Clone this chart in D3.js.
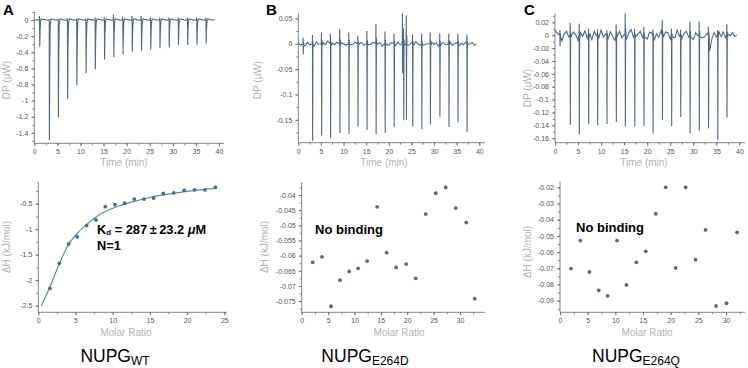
<!DOCTYPE html>
<meta charset="utf-8">
<style>
body { margin: 0; background: #fff; }
svg { font-family: "Liberation Sans", Arial, sans-serif; }
.tick text { font-size: 7px; fill: #555; }
.tick line, .domain { stroke: #666; stroke-width: 0.8; }
.atitle { font-size: 10px; fill: #b3b3b3; }
</style>
<body>
<script src="https://d3js.org/d3.v7.min.js"></script>
<script>

// ---- raw thermograms (injection time, min, peak down, peak up) ----
const aInjT = [1.16, 3.25, 5.2, 7.2, 9.2, 11.2, 13.2, 15.2, 17.2, 19.2, 21.2, 23.2, 25.2, 27.2, 29.2, 31.2, 33.2, 35.2, 37.2]
const aInjMin = [-0.33, -1.49, -1.21, -0.98, -0.81, -0.66, -0.61, -0.49, -0.46, -0.43, -0.39, -0.38, -0.37, -0.35, -0.34, -0.31, -0.31, -0.31, -0.29]
const aInjMax = [0.05, 0.01, 0.01, 0.02, 0.02, 0.02, 0.03, 0.03, 0.07, 0.04, 0.05, 0.05, 0.03, 0.03, 0.03, 0.03, 0.03, 0.03, 0.03]
const aEnd = 39.1

const bInjT = [1.1, 3.17, 5.16, 7.15, 9.2, 11.2, 13.2, 15.2, 17.2, 19.2, 21.2, 23.06, 23.3, 23.9, 25.3, 27.3, 29.2, 31.3, 33.3, 35.3, 37.3]
const bInjMin = [-0.021, -0.191, -0.181, -0.186, -0.176, -0.178, -0.163, -0.170, -0.178, -0.176, -0.164, -0.058, -0.151, -0.150, -0.163, -0.168, -0.159, -0.144, -0.164, -0.155, -0.174]
const bInjMax = [0.012, 0.017, 0.022, 0.02, 0.029, 0.022, 0.016, 0.025, 0.039, 0.024, 0.02, 0.06, 0.03, 0.056, 0.018, 0.02, 0.022, 0.02, 0.02, 0.02, 0.018]
// baseline wiggle every 0.5 min, in nW
const bNoise = [2, -3, 1, -4, 3, -2, 0, -5, 4, -1, -3, 2, -2, 5, -4, 1, -2, 3, -6, 2, 0, -3, 4, -1, -2, 3, -4, 1, 2, -3, 5, -2, -1, 3, -4, 0, 2, -5, 3, -1, -3, 2, 0, -4, 3, -2, -6, 4, -8, -3, 2, -2, 4, -1, -3, 6, -2, 0, -4, 3, -1, 2, -5, 1, 3, -2, -1, 4, -3, 0, 2, -4, 1, -2, 3, -1, 0, 2, -3, 1]
const bEnd = 39.3

const cInjT = [1.1, 3.33, 5.28, 7.3, 9.26, 11.28, 13.3, 15.26, 17.3, 19.3, 21.27, 23.3, 25.3, 27.27, 29.3, 31.3, 33.3, 35.3, 37.3]
const cInjMin = [-0.017, -0.139, -0.154, -0.138, -0.140, -0.138, -0.135, -0.142, -0.142, -0.141, -0.153, -0.132, -0.141, -0.127, -0.152, -0.148, -0.145, -0.163, -0.128]
const cInjMax = [0.008, 0.019, 0.018, 0.010, 0.009, 0.008, 0.017, 0.034, 0.010, 0.013, 0.009, 0.024, 0.010, 0.009, 0.021, 0.021, 0.013, 0.008, 0.017]
const cNoise = [8, 3, -4, -9, 2, 6, -3, -6, 5, 1, -8, 4, -2, 7, -5, 3, -7, 6, -1, -4, 8, -3, 2, -6, 5, -2, -8, 3, 6, -4, 1, -7, 4, 9, -3, -5, 2, 6, -4, 0, -6, 5, 3, -8, 2, -3, 7, -2, 5, 4, -6, 1, -4, 8, -2, -5, 3, 6, -3, 2, -7, 4, -1, 5, -4, -2, 3, -25, -6, 4, -3, 6, -2, 5, -4, 2, -1, 4, -2, 1]
const cEnd = 39.4

// ---- integrated heats ----
const aRatio = [1.57, 2.82, 4.08, 5.24, 6.5, 7.75, 9.0, 10.3, 11.6, 12.9, 14.2, 15.5, 16.8, 18.2, 19.6, 21.0, 22.4, 23.8]
const aHeat = [-2.16, -1.67, -1.29, -1.15, -0.93, -0.82, -0.56, -0.52, -0.49, -0.41, -0.41, -0.39, -0.30, -0.29, -0.24, -0.23, -0.23, -0.18]
const aFitX = [0.4, 1.57, 2.8, 4.03, 5.24, 6.5, 7.84, 9.2, 10.5, 12.8, 15, 17.2, 19.5, 21.7, 23.7]
const aFitY = [-2.5, -2.13, -1.69, -1.31, -1.08, -0.91, -0.75, -0.64, -0.56, -0.46, -0.38, -0.32, -0.27, -0.23, -0.2]

const bRatio = [2.08, 3.85, 5.56, 7.27, 9.0, 10.7, 12.4, 14.3, 16.1, 17.9, 19.8, 21.6, 23.5, 25.4, 27.3, 29.2, 31.2, 32.8]
const bHeat = [-0.0622, -0.0604, -0.0767, -0.0681, -0.0652, -0.0642, -0.0618, -0.0439, -0.0590, -0.0639, -0.0628, -0.0675, -0.0463, -0.0394, -0.0375, -0.0443, -0.0491, -0.0742]

const cRatio = [1.99, 3.67, 5.3, 7.0, 8.6, 10.3, 12.0, 13.8, 15.5, 17.3, 19.1, 20.9, 22.7, 24.5, 26.3, 28.2, 30.1, 32.0]
const cHeat = [-0.0702, -0.0529, -0.0723, -0.0836, -0.0871, -0.0529, -0.0803, -0.0663, -0.0595, -0.0363, -0.0200, -0.0698, -0.0200, -0.0647, -0.0463, -0.0933, -0.0916, -0.0478]

const lineCol = '#4e6889'

var svg = d3.select('body').append('svg')
    .attr('width', 748)
    .attr('height', 368)

function fmt(d) { return String(+d.toFixed(4)) }

function axes(p) {
    var g = svg.append('g')
    g.append('g').attr('transform', 'translate(0,' + p.y.range()[0] + ')')
        .call(d3.axisBottom(p.x).tickValues(p.xMinor).tickSize(2).tickFormat(''))
    g.append('g').attr('transform', 'translate(0,' + p.y.range()[0] + ')')
        .call(d3.axisBottom(p.x).tickValues(p.xMajor).tickSize(3).tickSizeOuter(0).tickPadding(3).tickFormat(fmt))
    g.append('g').attr('transform', 'translate(' + p.x.range()[0] + ',0)')
        .call(d3.axisLeft(p.y).tickValues(p.yMinor).tickSize(2).tickFormat(''))
    g.append('g').attr('transform', 'translate(' + p.x.range()[0] + ',0)')
        .call(d3.axisLeft(p.y).tickValues(p.yMajor).tickSize(3).tickSizeOuter(0).tickPadding(3).tickFormat(fmt))
    g.selectAll('.domain').attr('d', null)
    var x0 = p.x.range()[0], x1 = p.x.range()[1], y0 = p.y.range()[0], y1 = p.y.range()[1]
    g.append('path').attr('d', 'M' + x0 + ',' + y1 + 'V' + y0 + 'H' + x1)
        .attr('fill', 'none').attr('stroke', '#666').attr('stroke-width', 0.8)
    g.append('text').attr('class', 'atitle').attr('text-anchor', 'middle')
        .attr('x', p.xt[0]).attr('y', p.xt[1]).text(p.xTitle)
    g.append('text').attr('class', 'atitle').attr('text-anchor', 'middle')
        .attr('transform', 'translate(' + p.yt[0] + ',' + p.yt[1] + ') rotate(-90)').text(p.yTitle)
}

function steps(a, b, s) { return d3.range(Math.round(a / s), Math.round(b / s) + 1).map(function (i) { return +(i * s).toFixed(5) }) }

function tracePoints(injT, injMin, injMax, noise, end, kind) {
    var pts = [[0, noise ? noise[0] / 1000 : 0], [end, 0]]
    if (noise) {
        noise.forEach(function (v, i) {
            var t = i * 0.5
            if (t > 0 && t < end && !injT.some(function (s) { return Math.abs(t - s) < 0.2 })) pts.push([t, v / 1000])
        })
    }
    injT.forEach(function (t, i) {
        var lo = injMin[i], hi = injMax[i]
        if (kind === 'a') {
            pts.push([t - 0.1, 0], [t - 0.05, hi], [t - 0.02, 0], [t + 0.02, lo], [t + 0.1, lo * 0.35],
                [t + 0.2, lo * 0.05], [t + 0.35, 0.015], [t + 0.7, 0.01], [t + 1.2, 0.002])
        } else {
            pts.push([t - 0.08, 0], [t - 0.04, hi], [t, lo], [t + 0.06, hi * 0.3], [t + 0.14, -0.003])
        }
    })
    return pts.sort(function (a, b) { return a[0] - b[0] })
}

function letter(x, y, s) {
    svg.append('text').attr('x', x).attr('y', y).attr('font-size', 15).attr('font-weight', 'bold').text(s)
}

function thermo(p, pts) {
    axes(p)
    svg.append('path').datum(pts)
        .attr('d', d3.line().x(function (d) { return p.x(d[0]) }).y(function (d) { return p.y(d[1]) }))
        .attr('fill', 'none').attr('stroke', lineCol).attr('stroke-width', 1.1)
}

function dots(p, xs, ys) {
    axes(p)
    svg.append('g').selectAll('circle').data(xs).enter().append('circle')
        .attr('cx', function (d) { return p.x(d) })
        .attr('cy', function (d, i) { return p.y(ys[i]) })
        .attr('r', 1.9).attr('fill', '#4f6a8f')
}

function bold(x, y, s, size) {
    return svg.append('text').attr('x', x).attr('y', y).attr('font-size', size || 13).attr('font-weight', 'bold').text(s)
}

function name(cx, sub) {
    var t = svg.append('text').attr('x', cx).attr('y', 362).attr('text-anchor', 'middle').attr('font-size', 17.5)
    t.append('tspan').text('NUPG')
    t.append('tspan').attr('font-size', 12).attr('dy', 2.5).text(sub)
}

// ---- top row ----
var dpTitle = 'DP (\u00b5W)'
thermo({
    x: d3.scaleLinear().domain([0, 41.08]).range([34.3, 224]),
    y: d3.scaleLinear().domain([-1.53, 0.10]).range([143.3, 12]),
    xMajor: steps(0, 40, 5), xMinor: steps(0, 40, 2.5),
    yMajor: steps(-1.4, 0, 0.2), yMinor: steps(-1.5, 0.1, 0.1),
    xTitle: 'Time (min)', xt: [124, 166], yTitle: dpTitle, yt: [10, 80]
}, tracePoints(aInjT, aInjMin, aInjMax, null, aEnd, 'a'))

thermo({
    x: d3.scaleLinear().domain([0, 41.26]).range([298.3, 485]),
    y: d3.scaleLinear().domain([-0.195, 0.06]).range([142.7, 13.3]),
    xMajor: steps(0, 40, 5), xMinor: steps(0, 40, 2.5),
    yMajor: steps(-0.15, 0.05, 0.05), yMinor: steps(-0.175, 0.05, 0.025),
    xTitle: 'Time (min)', xt: [384, 166], yTitle: dpTitle, yt: [261, 80]
}, tracePoints(bInjT, bInjMin, bInjMax, bNoise, bEnd, 'b'))

thermo({
    x: d3.scaleLinear().domain([0, 41.2]).range([555, 745]),
    y: d3.scaleLinear().domain([-0.167, 0.034]).range([142.7, 13.3]),
    xMajor: steps(0, 40, 5), xMinor: steps(0, 40, 2.5),
    yMajor: steps(-0.16, 0.02, 0.02), yMinor: steps(-0.16, 0.03, 0.01),
    xTitle: 'Time (min)', xt: [644, 166], yTitle: dpTitle, yt: [531, 88]
}, tracePoints(cInjT, cInjMin, cInjMax, cNoise, cEnd, 'c'))

letter(3, 15, 'A')
letter(266, 15, 'B')
letter(524, 15, 'C')

// ---- bottom row ----
var dhTitle = '\u0394H (kJ/mol)'
var pa = {
    x: d3.scaleLinear().domain([0, 25.36]).range([38.3, 227]),
    y: d3.scaleLinear().domain([-2.63, -0.07]).range([312.3, 181.7]),
    xMajor: steps(0, 25, 5), xMinor: steps(0, 25, 2.5),
    yMajor: steps(-2.5, -0.5, 0.5), yMinor: steps(-2.5, -0.25, 0.25),
    xTitle: 'Molar Ratio', xt: [126, 336], yTitle: dhTitle, yt: [10, 247]
}
svg.append('path').datum(aFitX)
    .attr('d', d3.line().curve(d3.curveCatmullRom)
        .x(function (d) { return pa.x(d) }).y(function (d, i) { return pa.y(aFitY[i]) }))
    .attr('fill', 'none').attr('stroke', '#4d8fb0').attr('stroke-width', 1.2)
dots(pa, aRatio, aHeat)

var kd = bold(97, 233.5, 'K', 12.8)
kd.append('tspan').attr('font-size', 8).attr('dy', 1.8).text('d')
kd.append('tspan').attr('dy', -1.8).text(' = 287\u2009\u00b1\u200923.2 ')
kd.append('tspan').attr('font-style', 'italic').text('\u03bc')
kd.append('tspan').text('M')
bold(97, 249.5, 'N=1', 12.8)

dots({
    x: d3.scaleLinear().domain([0, 34.74]).range([301.7, 485]),
    y: d3.scaleLinear().domain([-0.0787, -0.0358]).range([312.3, 182.3]),
    xMajor: steps(0, 30, 5), xMinor: steps(0, 32.5, 2.5),
    yMajor: steps(-0.075, -0.04, 0.005), yMinor: steps(-0.0775, -0.0375, 0.0025),
    xTitle: 'Molar Ratio', xt: [399, 336], yTitle: dhTitle, yt: [268, 247]
}, bRatio, bHeat)
bold(315, 234, 'No binding')

dots({
    x: d3.scaleLinear().domain([0, 33.43]).range([560, 745]),
    y: d3.scaleLinear().domain([-0.0972, -0.0165]).range([312.3, 181.7]),
    xMajor: steps(0, 30, 5), xMinor: steps(0, 32.5, 2.5),
    yMajor: steps(-0.09, -0.02, 0.01), yMinor: steps(-0.095, -0.02, 0.005),
    xTitle: 'Molar Ratio', xt: [647, 336], yTitle: dhTitle, yt: [531, 252]
}, cRatio, cHeat)
bold(576, 231.7, 'No binding')

name(115, 'WT')
name(365, 'E264D')
name(636, 'E264Q')

</script>
</body>
